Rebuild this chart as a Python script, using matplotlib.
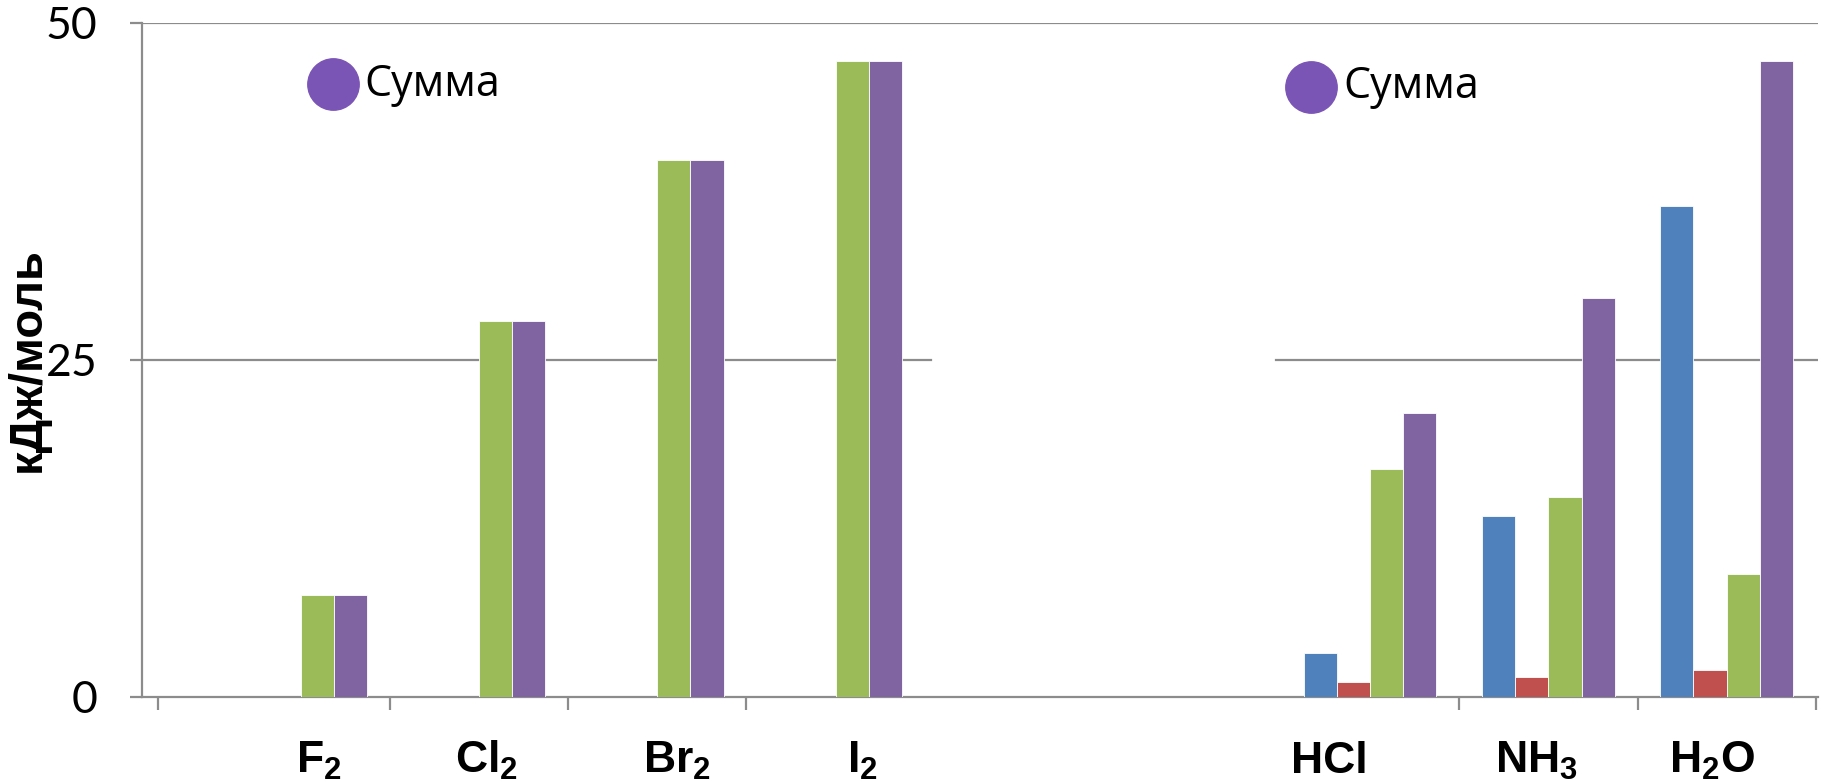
import matplotlib
matplotlib.use("Agg")
import matplotlib.pyplot as plt
import numpy as np

plt.rcParams['mathtext.fontset'] = 'custom'
plt.rcParams['mathtext.rm'] = 'Liberation Sans:bold'
plt.rcParams['mathtext.bf'] = 'Liberation Sans:bold'

# энергии межмолекулярного взаимодействия, кДж/моль
molecules = ['F$_2$', 'Cl$_2$', 'Br$_2$', 'I$_2$', 'HCl', 'NH$_3$', 'H$_2$O']
slot = [0, 1, 2, 3, 6, 7, 8]   # номер категории на оси (две пустые между группами)
orient = [0, 0, 0, 0, 3.3, 13.4, 36.4]
induct = [0, 0, 0, 0, 1.1, 1.5, 2.0]
disper = [7.6, 27.9, 39.8, 47.2, 16.9, 14.8, 9.1]
summa = [7.6, 27.9, 39.8, 47.2, 21.1, 29.6, 47.2]

series = [orient, induct, disper, summa]
colors = ['#4F81BD', '#C0504D', '#9BBB59', '#8064A2']
yticks = [0, 25, 50]

fig = plt.figure(figsize=(18.21, 7.82), dpi=100)
ax = fig.add_axes([0.0778, 0.1087, 0.9203, 0.8619])

x = np.array(slot, dtype=float)
w = 0.186
for k, (vals, c) in enumerate(zip(series, colors)):
    v = np.array(vals)
    m = v > 0
    ax.bar(x[m] + (k - 1.5) * w, v[m], width=w, color=c,
           edgecolor='white', linewidth=0.6, zorder=3)

ax.set_xlim(-0.893, 8.51)
ax.set_ylim(0, 50)

grid_c = '#8c8c8c'
ax.axhline(50, color=grid_c, lw=1.6, zorder=1)
ax.axhline(25, xmax=0.471, color=grid_c, lw=1.6, zorder=1)
ax.axhline(25, xmin=0.677, color=grid_c, lw=1.6, zorder=1)

for s in ['top', 'right']:
    ax.spines[s].set_visible(False)
for s in ['left', 'bottom']:
    ax.spines[s].set_color(grid_c)
    ax.spines[s].set_linewidth(1.6)

ax.set_yticks(yticks)
ax.set_yticklabels([str(t) for t in yticks], fontsize=32, family='Lato')
ax.tick_params(axis='y', length=9, width=1.6, color=grid_c, pad=23)
ax.set_xticks([-0.8, 0.5, 1.5, 2.5, 6.5, 7.5, 8.5])
ax.set_xticklabels([])
ax.tick_params(axis='x', length=9, width=1.6, color=grid_c)

# подписи молекул
nudge = [0.1, 0.04, 0.11, 0.15, -0.23, -0.07, -0.08]
for xi, name, dx in zip(x, molecules, nudge):
    ax.text(xi + dx, -0.113, name, transform=ax.get_xaxis_transform(),
            ha='center', va='baseline', fontsize=32, fontweight='bold',
            family='Liberation Sans')

ax.set_ylabel('кДж/моль', fontsize=34, fontweight='bold',
              family='Liberation Sans')
ax.yaxis.set_label_coords(-0.055, 0.5)

# две метки «Сумма»
for lx, ly in [(0.114, 0.909), (0.698, 0.905)]:
    ax.plot([lx], [ly], marker='o', markersize=37, color='#7B55B6',
            transform=ax.transAxes, clip_on=False, zorder=5)
    ax.text(lx + 0.019, ly, 'Сумма', transform=ax.transAxes,
            ha='left', va='center', fontsize=31, family='Open Sans')

fig.savefig('out.png', dpi=100)
